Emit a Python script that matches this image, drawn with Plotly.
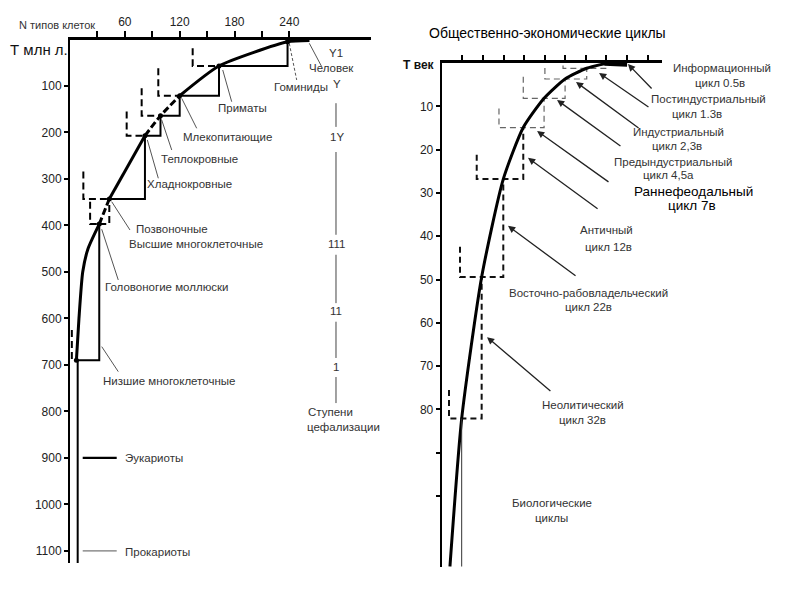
import plotly.graph_objects as go

# page body keeps an 8px margin, so the figure is laid out 8px in from the window corner
OFF = 8
W, H = 809 - 2 * OFF, 591 - 2 * OFF

# ---------------- data: left panel (biological evolution) ----------------
N_ticks = [30, 60, 90, 120, 150, 180, 210, 240]
N_ticktext = ["", "60", "", "120", "", "180", "", "240"]
T_ticks_left = [100, 200, 300, 400, 500, 600, 700, 800, 900, 1000, 1100]

stage_N = [7, 32, 43, 82, 99, 120, 163, 238]          # N cell types at each stage
stage_T = [690, 397, 343, 207, 164, 121, 57, 5]       # million years ago
box_left_N = [2, 22, 14.6, 62, 78.4, 96.6, 134.2]
box_top_T = [625, 349, 284, 155, 105, 62, 19]
step_dashed = [False, True, False, False, False, False, False]

# evolution curve, split into drawn pieces (solid / dashed as in the source figure)
curve_pieces_N = [[7, 9.8, 13.9, 19.7, 32], [32, 43], [43, 82], [82, 99, 120],
                  [120, 163, 238, 262]]
curve_pieces_T = [[690, 600, 500, 450, 397], [397, 343], [343, 207], [207, 164, 121],
                  [121, 57, 5, 2]]
curve_pieces_dashed = [False, True, False, True, False]

root_N = [8.4, 8.4]
root_T = [690, 1126]
eukaryote_N = [13.9, 51.1]
eukaryote_T = 900
prokaryote_T = 1100

ceph_N = 291
ceph_segments_T = [[137, 188], [242, 420], [463, 567], [607, 685], [726, 782]]

leaders_left = [  # (N0, T0, N1, T1)
    (167.1, 65.6, 176.9, 133.8),
    (122.2, 126.5, 138.6, 191.0),
    (100.3, 173.0, 111.3, 237.6),
    (84.6, 216.0, 96.6, 298.5),
    (45.6, 348.8, 65.6, 409.7),
    (34.7, 408.2, 52.8, 517.2),
    (34.7, 660.6, 52.8, 714.4),
    (261.8, 8.2, 275.4, 58.5),
]
leader_hominid = (239.9, 8.2, 248.0, 87.1)

# ---------------- data: right panel (socio-economic cycles) ----------------
T_ticks_right = [10, 20, 30, 40, 50, 60, 70, 80, 90, 100]
T_ticktext_right = ["10", "20", "30", "40", "50", "60", "70", "80", "", ""]
x_ticks_right = [1, 2, 3, 4, 5, 6, 7, 8, 9, 10]

cyc_x = [0.97, 1.94, 2.99, 3.96, 4.97, 5.99, 7.04, 8.01]
cyc_T = [82.1, 49.4, 26.8, 14.9, 8.15, 3.7, 1.22, 0.07]   # centuries ago
cyc_box_left = [0.354, 0.889, 1.70, 2.78, 3.96, 5.01, 5.89]
cyc_box_top = [75.5, 42.4, 21.2, 10.5, 3.2, 1.15, 0.6]

rcurve_x = [0.40, 0.97, 1.94, 2.99, 3.96, 4.97, 5.99, 7.04, 8.01]
rcurve_T = [116.3, 82.1, 49.4, 26.8, 14.9, 8.15, 3.7, 1.22, 0.07]
info_bar_x = [7.9, 9.0]
info_bar_T = [0.2, 0.4]

arrows_right = [  # head x, head T, tail x, tail T
    (9.04, 0.23, 10.26, 6.24),
    (7.64, 2.31, 10.11, 10.39),
    (6.52, 4.39, 9.63, 15.24),
    (5.60, 8.55, 8.75, 19.4),
    (4.63, 15.7, 8.17, 27.7),
    (4.19, 21.9, 7.64, 33.9),
    (3.22, 37.6, 6.57, 49.4),
    (2.20, 63.3, 5.35, 76.0),
]

def fx(p):
    return (p - OFF) / W

def fy(p):
    return 1 - (p - OFF) / H

fig = go.Figure()

def line(xs, ys, ax="L", width=2, color="black", dash="solid", shape="linear", smoothing=1):
    xa, ya = ("x", "y") if ax == "L" else ("x2", "y2")
    fig.add_trace(go.Scatter(x=xs, y=ys, mode="lines", xaxis=xa, yaxis=ya,
                             line=dict(width=width, color=color, dash=dash, shape=shape,
                                       smoothing=smoothing),
                             showlegend=False, hoverinfo="skip"))

# ----- left panel -----
line(root_N, root_T, width=2)
line(eukaryote_N, [eukaryote_T] * 2, width=2.2)
line(eukaryote_N, [prokaryote_T] * 2, width=1, color="#555")
for seg in ceph_segments_T:
    line([ceph_N, ceph_N], seg, width=1, color="#444")
for i in range(len(box_left_N)):
    line([box_left_N[i], box_left_N[i], stage_N[i]], [box_top_T[i], stage_T[i], stage_T[i]],
         width=2, dash="7px,4px")
    line([stage_N[i], stage_N[i + 1], stage_N[i + 1]], [stage_T[i], stage_T[i], stage_T[i + 1]],
         width=2, dash="7px,4px" if step_dashed[i] else "solid")
for (a, b, c, d) in leaders_left:
    line([a, c], [b, d], width=1, color="#555")
line([leader_hominid[0], leader_hominid[2]], [leader_hominid[1], leader_hominid[3]],
     width=1, color="#555", dash="3px,2px")
for cn, ct, dsh in zip(curve_pieces_N, curve_pieces_T, curve_pieces_dashed):
    line(cn, ct, width=3, shape="spline", smoothing=0.6, dash="7px,3px" if dsh else "solid")
fig.add_trace(go.Scatter(x=stage_N, y=stage_T, mode="markers", xaxis="x", yaxis="y",
                         marker=dict(size=5, color="black"), showlegend=False, hoverinfo="skip"))

# ----- right panel -----
for i in range(len(cyc_box_left)):
    strong = i < 3
    line([cyc_box_left[i], cyc_box_left[i], cyc_x[i + 1], cyc_x[i + 1]],
         [cyc_box_top[i], cyc_T[i], cyc_T[i], cyc_T[i + 1]], ax="R",
         width=2 if strong else 1.2, color="#111" if strong else "#666", dash="6px,4px")
line(rcurve_x, rcurve_T, ax="R", width=3, shape="spline", smoothing=0.6)
line(info_bar_x, info_bar_T, ax="R", width=4)
line([rcurve_x[1], rcurve_x[1]], [rcurve_T[1], 116.3], ax="R", width=1, color="#333")

annotations = []
for (hx, hT, tx, tT) in arrows_right:
    annotations.append(dict(x=hx, y=hT, ax=tx, ay=tT, xref="x2", yref="y2", axref="x2",
                            ayref="y2", text="", showarrow=True, arrowhead=2, arrowsize=1.1,
                            arrowwidth=1.3, arrowcolor="#222"))

FONT = "Liberation Sans, Arial, sans-serif"

def txt(s, x, y, size=12, color="#333", xanchor="center", bold=False):
    if bold:
        s = "<b>" + s + "</b>"
    annotations.append(dict(text=s, x=fx(x), y=fy(y), xref="paper", yref="paper",
                            showarrow=False, xanchor=xanchor, yanchor="middle",
                            font=dict(family=FONT, size=size, color=color)))

left_labels = [
    ("Y1", 336, 53), ("Человек", 331, 68), ("Гоминиды", 301, 87), ("Y", 337, 84),
    ("Приматы", 243, 108), ("Млекопитающие", 227, 137), ("1Y", 337, 137),
    ("Теплокровные", 199, 159), ("Хладнокровные", 189, 184), ("Позвоночные", 172, 229),
    ("Высшие многоклеточные", 196, 244), ("111", 336, 244),
    ("Головоногие моллюски", 166, 287), ("11", 336, 311), ("1", 336, 367),
    ("Низшие многоклеточные", 169, 381), ("Ступени", 330, 412), ("цефализации", 343, 427),
]
for s, x, y in left_labels:
    txt(s, x, y, size=11.5)
txt("Эукариоты", 123, 458, size=11.5, xanchor="left")
txt("Прокариоты", 123, 552, size=11.5, xanchor="left")
txt("Т млн л.", 8, 50, size=15, color="#111", xanchor="left")
txt("N типов клеток", 57, 25, size=11)

right_labels = [
    ("Информационный", 721.7, 68.3), ("цикл 0.5в", 720, 82.7),
    ("Постиндустриальный", 708.3, 99.3), ("цикл 1.3в", 696.7, 114.3),
    ("Индустриальный", 678.3, 131.7), ("цикл 2,3в", 676.7, 146),
    ("Предындустриальный", 672.7, 161.5), ("цикл 4,5а", 668.3, 174.8),
    ("Античный", 606, 230), ("цикл 12в", 608.3, 246.7),
    ("Восточно-рабовладельческий", 588.3, 293.3), ("цикл 22в", 588.3, 306.7),
    ("Неолитический", 583.3, 405), ("цикл 32в", 582.7, 420),
    ("Биологические", 551.7, 503.3), ("циклы", 551.7, 518.3),
]
for s, x, y in right_labels:
    txt(s, x, y, size=11.5)
txt("Раннефеодальный", 693.3, 191.7, size=13.5, color="black")
txt("цикл 7в", 692.3, 205.7, size=13.5, color="black")
txt("Общественно-экономические циклы", 547.5, 33, size=14, color="black")
txt("Т век", 419, 65, size=12, color="#111", bold=True)

axis_common = dict(showgrid=False, zeroline=False, showline=True, linecolor="black",
                   ticks="outside", tickcolor="black", automargin=False,
                   tickfont=dict(family=FONT, size=12, color="#222"))

fig.update_layout(
    width=W, height=H, margin=dict(l=0, r=0, t=0, b=0, autoexpand=False),
    paper_bgcolor="white", plot_bgcolor="white", showlegend=False,
    annotations=annotations,
    xaxis=dict(domain=[fx(70), fx(371)], range=[0, 329.3], side="top", anchor="y",
               tickvals=N_ticks, ticktext=N_ticktext, ticklen=6, tickwidth=1.5,
               linewidth=3, **axis_common),
    yaxis=dict(domain=[fy(563), fy(39.5)], range=[1126, 0], anchor="x",
               tickvals=T_ticks_left, ticklen=4, tickwidth=2, linewidth=2, **axis_common),
    xaxis2=dict(domain=[fx(441.7), fx(661.7)], range=[0, 10.68], side="top", anchor="y2",
                tickvals=x_ticks_right, showticklabels=False, ticklen=5, tickwidth=1.5,
                linewidth=2.5, **axis_common),
    yaxis2=dict(domain=[fy(566.7), fy(63)], range=[116.3, 0], anchor="x2",
                tickvals=T_ticks_right, ticktext=T_ticktext_right, ticklen=4, tickwidth=1.5,
                linewidth=2, **axis_common),
)

fig.write_html("out.html")
